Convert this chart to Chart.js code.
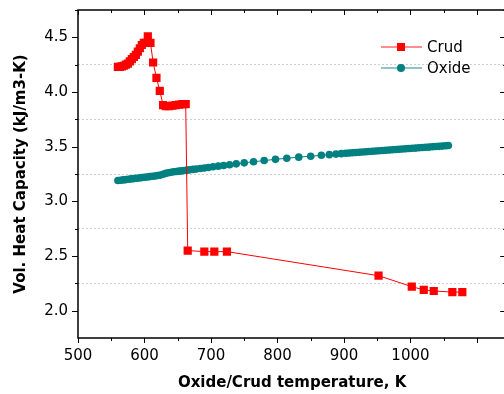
<!DOCTYPE html>
<html>
<head>
<meta charset="utf-8">
<script src="https://cdn.jsdelivr.net/npm/chart.js@4/dist/chart.umd.min.js"></script>
<style>
  html, body { margin: 0; padding: 0; background: #fff; overflow: hidden; }
  #wrap { width: 512px; height: 394px; }
</style>
</head>
<body>
<div id="wrap"><canvas id="myChart"></canvas></div>
<script>
// Crud: temperature (K) and vol. heat capacity (kJ/m3-K)
const crudTemp = [560, 563, 566, 569, 572, 575, 578, 581, 584, 587, 590, 593, 596, 599, 602, 605,
  609, 613, 618, 623, 628, 632, 637, 642, 647, 652, 657, 662,
  665, 690, 705, 724, 952, 1002, 1020, 1035, 1063, 1078];
const crudCp = [4.23, 4.23, 4.235, 4.24, 4.25, 4.26, 4.28, 4.30, 4.32, 4.34, 4.37, 4.40, 4.43, 4.45, 4.45, 4.51,
  4.45, 4.27, 4.13, 4.01, 3.88, 3.87, 3.87, 3.875, 3.88, 3.885, 3.89, 3.89,
  2.55, 2.54, 2.54, 2.54, 2.32, 2.22, 2.19, 2.18, 2.17, 2.17];

// Oxide
const oxideTemp = [560, 564, 568, 572, 576, 580, 584, 588, 592, 596, 600, 604, 608, 612, 616, 620, 624,
  628, 632, 636, 640, 644, 648, 652, 656, 660, 664, 668, 673, 678, 684, 690, 696, 703, 711, 719,
  728, 738, 750, 764, 780, 797, 814, 832, 850, 866, 878, 888, 896, 903,
  908, 913, 918, 923, 928, 933, 938, 943, 948, 953, 958, 963, 968, 973, 978, 983, 988, 993, 998,
  1003, 1008, 1013, 1018, 1023, 1028, 1033, 1038, 1043, 1048, 1053, 1057];
const oxideCp = [3.190, 3.193, 3.196, 3.199, 3.202, 3.205, 3.208, 3.211, 3.214, 3.217, 3.220, 3.223, 3.226, 3.229, 3.232, 3.236, 3.240,
  3.248, 3.256, 3.262, 3.266, 3.270, 3.273, 3.276, 3.279, 3.282, 3.285, 3.288, 3.292, 3.296, 3.300, 3.305, 3.310, 3.316, 3.322, 3.328,
  3.335, 3.343, 3.352, 3.362, 3.373, 3.384, 3.394, 3.404, 3.413, 3.421, 3.427, 3.432, 3.436, 3.440,
  3.442, 3.444, 3.447, 3.449, 3.451, 3.453, 3.456, 3.458, 3.460, 3.463, 3.465, 3.467, 3.469, 3.472, 3.474, 3.476, 3.478, 3.481, 3.483,
  3.485, 3.487, 3.490, 3.492, 3.494, 3.496, 3.499, 3.501, 3.503, 3.505, 3.508, 3.510];

const seriesNames = ['Crud', 'Oxide'];
const xTitle = 'Oxide/Crud temperature, K';
const yTitle = 'Vol. Heat Capacity (kJ/m3-K)';

const FONT = "'DejaVu Sans', Arial, sans-serif";
const isHalf = v => Math.abs(v * 2 - Math.round(v * 2)) < 1e-6;
const isHundred = v => Math.abs(v / 100 - Math.round(v / 100)) < 1e-6;

// frame, tick marks and inside legend
const framePlugin = {
  id: 'frame',
  afterDatasetsDraw(chart) {
    const {ctx, chartArea: a, scales: {x, y}} = chart;
    ctx.save();
    ctx.strokeStyle = '#000';
    ctx.lineWidth = 1.5;
    ctx.strokeRect(a.left, a.top, a.right - a.left, a.bottom - a.top);
    ctx.lineWidth = 1;
    ctx.beginPath();
    for (let v = 500; v <= x.max; v += 50) {
      const px = Math.round(x.getPixelForValue(v)) + 0.5;
      const len = isHundred(v) ? 5 : 3;
      ctx.moveTo(px, a.bottom); ctx.lineTo(px, a.bottom + len);
      ctx.moveTo(px, a.top); ctx.lineTo(px, a.top + len);
    }
    for (let v = 2.0; v <= y.max; v += 0.25) {
      const py = Math.round(y.getPixelForValue(v)) + 0.5;
      const len = isHalf(v) ? 6 : 3;
      ctx.moveTo(a.left, py); ctx.lineTo(a.left - len, py);
      ctx.moveTo(a.right, py); ctx.lineTo(a.right - len, py);
    }
    ctx.stroke();

    // legend
    const items = chart.data.datasets;
    const lx = 381, ly = 47, gap = 21;
    items.forEach((ds, i) => {
      const yy = ly + i * gap;
      ctx.strokeStyle = ds.borderColor;
      ctx.globalAlpha = 0.6;
      ctx.lineWidth = 1.5;
      ctx.beginPath();
      ctx.moveTo(lx, yy); ctx.lineTo(lx + 41, yy);
      ctx.stroke();
      ctx.globalAlpha = 1;
      ctx.fillStyle = ds.pointBackgroundColor;
      if (ds.pointStyle === 'rect') {
        ctx.fillRect(lx + 16, yy - 4, 8, 8);
      } else {
        ctx.beginPath();
        ctx.arc(lx + 20, yy, 4, 0, Math.PI * 2);
        ctx.fill();
      }
      ctx.fillStyle = '#000';
      ctx.font = '15px ' + FONT;
      ctx.textBaseline = 'middle';
      ctx.fillText(ds.label, lx + 46, yy + 1);
    });
    ctx.restore();
  }
};

new Chart(document.getElementById('myChart'), {
  type: 'scatter',
  data: {
    datasets: [{
      label: seriesNames[0],
      data: crudTemp.map((t, i) => ({x: t, y: crudCp[i]})),
      showLine: true,
      borderColor: '#FF0000',
      backgroundColor: '#FF0000',
      pointBackgroundColor: '#FF0000',
      borderWidth: 1,
      pointStyle: 'rect',
      pointRadius: 5.8,
      pointBorderWidth: 0,
      order: 1
    }, {
      label: seriesNames[1],
      data: oxideTemp.map((t, i) => ({x: t, y: oxideCp[i]})),
      showLine: true,
      borderColor: '#008080',
      backgroundColor: '#008080',
      pointBackgroundColor: '#008080',
      borderWidth: 1,
      pointStyle: 'circle',
      pointRadius: 3.8,
      pointBorderWidth: 0,
      order: 2
    }]
  },
  options: {
    responsive: true,
    maintainAspectRatio: false,
    animation: false,
    layout: {padding: {top: 10, right: 0, left: 0, bottom: 0}},
    plugins: {legend: {display: false}, tooltip: {enabled: false}},
    scales: {
      x: {
        type: 'linear',
        min: 500,
        max: 1144,
        afterBuildTicks: s => { s.ticks = s.ticks.filter(t => isHundred(t.value)); },
        afterFit: s => { s.height = 56; s.paddingRight = 0; s.paddingLeft = 0; },
        ticks: {stepSize: 100, color: '#000', padding: 9, font: {family: FONT, size: 15}, maxRotation: 0,
          callback: v => String(v)},
        grid: {display: false, drawTicks: false},
        border: {display: false},
        title: {display: true, text: xTitle, color: '#000', font: {family: FONT, size: 15, weight: 'bold'}, padding: {top: 0, bottom: 2}}
      },
      y: {
        type: 'linear',
        min: 1.75,
        max: 4.75,
        afterFit: s => { s.width = 78; s.paddingTop = 0; s.paddingBottom = 0; },
        ticks: {
          stepSize: 0.25, color: '#000', padding: 10, font: {family: FONT, size: 15},
          callback: v => isHalf(v) ? v.toFixed(1) : ''
        },
        grid: {
          drawTicks: false,
          lineWidth: 1,
          color: c => (c.tick && !isHalf(c.tick.value) && c.tick.value > 1.8 && c.tick.value < 4.7) ? '#cfcfcf' : 'rgba(0,0,0,0)'
        },
        border: {display: false, dash: [2, 2]},
        title: {display: true, text: yTitle, color: '#000', font: {family: FONT, size: 15, weight: 'bold'}, padding: {top: 12, bottom: 0}}
      }
    }
  },
  plugins: [framePlugin]
});
</script>
</body>
</html>
